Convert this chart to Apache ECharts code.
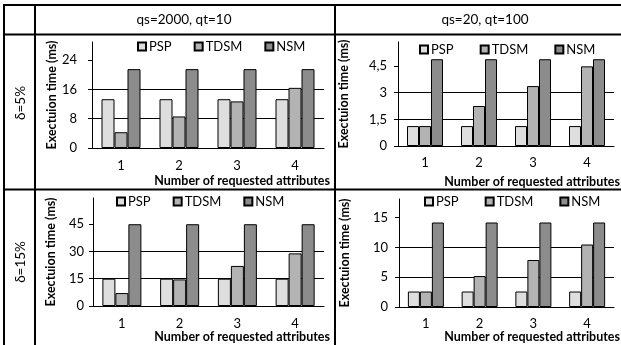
<!DOCTYPE html>
<html>
<head>
<meta charset="utf-8">
<script src="https://cdn.jsdelivr.net/npm/echarts@6/dist/echarts.min.js"></script>
<style>
  html, body { margin: 0; padding: 0; background: #fff; }
  #chart { width: 621px; height: 345px; }
</style>
</head>
<body>
<div id="chart"></div>
<script>
// categories and series
const categories = ['1', '2', '3', '4'];
const seriesNames = ['PSP', 'TDSM', 'NSM'];
const colHeaders = ['qs=2000, qt=10', 'qs=20, qt=100'];
const rowHeaders = ['δ=5%', 'δ=15%'];

// δ=5%, qs=2000 qt=10
const pspA = [13.3, 13.3, 13.3, 13.3];
const tdsmA = [4.3, 8.6, 12.7, 16.4];
const nsmA = [21.5, 21.5, 21.5, 21.5];
// δ=5%, qs=20 qt=100
const pspB = [1.12, 1.12, 1.12, 1.12];
const tdsmB = [1.12, 2.25, 3.37, 4.48];
const nsmB = [4.88, 4.88, 4.88, 4.88];
// δ=15%, qs=2000 qt=10
const pspC = [15, 15, 15, 15];
const tdsmC = [7.1, 14.6, 22, 28.9];
const nsmC = [44.9, 44.9, 44.9, 44.9];
// δ=15%, qs=20 qt=100
const pspD = [2.6, 2.6, 2.6, 2.6];
const tdsmD = [2.6, 5.2, 7.9, 10.5];
const nsmD = [14.2, 14.2, 14.2, 14.2];

// tick labels
const ticksA = [0, 8, 16, 24];
const ticksB = [0, 1.5, 3, 4.5];
const ticksC = [0, 15, 30, 45];
const ticksD = [0, 5, 10, 15];

const FONT = 'Lato, "Liberation Sans", sans-serif';
const colors = ['#dedede', '#b3b3b3', '#8c8c8c'];

// layout of each panel
const panels = [
    { data: [pspA, tdsmA, nsmA], ticks: ticksA, max: 28.9, grid: [92, 42, 232, 106], barW: 13,
      yGap: 30, yMargin: 15, xMargin: 11, nameDown: 26, legend: [137, 40, 22] },
    { data: [pspB, tdsmB, nsmB], ticks: ticksB, max: 5.85, grid: [398, 42, 218, 104], barW: 12,
      yGap: 48, yMargin: 11, xMargin: 10, nameDown: 29, legend: [419, 43, 26] },
    { data: [pspC, tdsmC, nsmC], ticks: ticksC, max: 59.3, grid: [93, 198, 231, 108], barW: 13,
      yGap: 36, yMargin: 9, xMargin: 11, nameDown: 24, legend: [116, 195, 22] },
    { data: [pspD, tdsmD, nsmD], ticks: ticksD, max: 18.15, grid: [399, 199, 218, 108], barW: 12,
      yGap: 48, yMargin: 11, xMargin: 10, nameDown: 23, legend: [424, 195, 26] }
];

const grid = [], xAxis = [], yAxis = [], series = [], legend = [];

panels.forEach((p, i) => {
    grid.push({ left: p.grid[0], top: p.grid[1], width: p.grid[2], height: p.grid[3] });
    xAxis.push({
        type: 'category', gridIndex: i, data: categories,
        name: 'Number of requested attributes', nameLocation: 'end', nameGap: 6,
        nameTextStyle: { fontFamily: FONT, fontSize: 12.5, fontWeight: 'bold', color: '#000',
            align: 'right', verticalAlign: 'top', padding: [p.nameDown, 0, 0, 0] },
        axisLine: { lineStyle: { color: '#000', width: 1 } },
        axisTick: { inside: true, length: 4, lineStyle: { color: '#000' } },
        axisLabel: { color: '#000', fontFamily: FONT, fontSize: 13, margin: p.xMargin }
    });
    yAxis.push({
        type: 'value', gridIndex: i, min: 0, max: p.max, interval: p.ticks[1],
        name: 'Exectuion time (ms)', nameLocation: 'middle', nameGap: p.yGap,
        nameTextStyle: { fontFamily: FONT, fontSize: 12.5, fontWeight: 'bold', color: '#000' },
        axisLine: { show: true, lineStyle: { color: '#000', width: 1 } },
        axisTick: { show: true, length: 4, lineStyle: { color: '#000' }, customValues: p.ticks },
        axisLabel: { color: '#000', fontFamily: FONT, fontSize: 13, margin: p.yMargin,
            showMaxLabel: false, formatter: v => String(v).replace('.', ',') },
        splitLine: { show: true, showMaxLine: false, lineStyle: { color: '#000', width: 1 } }
    });
    seriesNames.forEach((name, k) => {
        series.push({
            type: 'bar', name: name, xAxisIndex: i, yAxisIndex: i,
            data: p.data[k], barWidth: p.barW, barGap: '0%',
            itemStyle: { color: colors[k], borderColor: '#000', borderWidth: 1 }
        });
    });
    legend.push({
        data: seriesNames, left: p.legend[0], top: p.legend[1], itemGap: p.legend[2],
        icon: 'rect', itemWidth: 8, itemHeight: 8, padding: 0, selectedMode: false,
        textStyle: { fontFamily: FONT, fontSize: 13, color: '#000', padding: [0, 0, 0, -2] }
    });
});

// table grid lines and headers
const line = (x1, y1, x2, y2) => ({
    type: 'line', silent: true, shape: { x1, y1, x2, y2 },
    style: { stroke: '#000', lineWidth: 2 }
});
const graphic = [
    line(3, 5, 621, 5),
    line(3, 34.5, 621, 34.5),
    line(3, 189.5, 621, 189.5),
    line(4, 5, 4, 345),
    line(35, 5, 35, 345),
    line(335, 5, 335, 345),
    { type: 'text', x: 184, y: 20, style: { text: colHeaders[0], font: '13.5px ' + FONT, fill: '#000', align: 'center', verticalAlign: 'middle' } },
    { type: 'text', x: 485, y: 20, style: { text: colHeaders[1], font: '13.5px ' + FONT, fill: '#000', align: 'center', verticalAlign: 'middle' } },
    { type: 'text', x: 21, y: 103, rotation: Math.PI / 2, style: { text: rowHeaders[0], font: '13.5px ' + FONT, fill: '#000', align: 'center', verticalAlign: 'middle' } },
    { type: 'text', x: 21, y: 262, rotation: Math.PI / 2, style: { text: rowHeaders[1], font: '13.5px ' + FONT, fill: '#000', align: 'center', verticalAlign: 'middle' } }
];

const chart = echarts.init(document.getElementById('chart'));
chart.setOption({
    animation: false,
    backgroundColor: '#fff',
    grid, xAxis, yAxis, series, legend, graphic
});
</script>
</body>
</html>
